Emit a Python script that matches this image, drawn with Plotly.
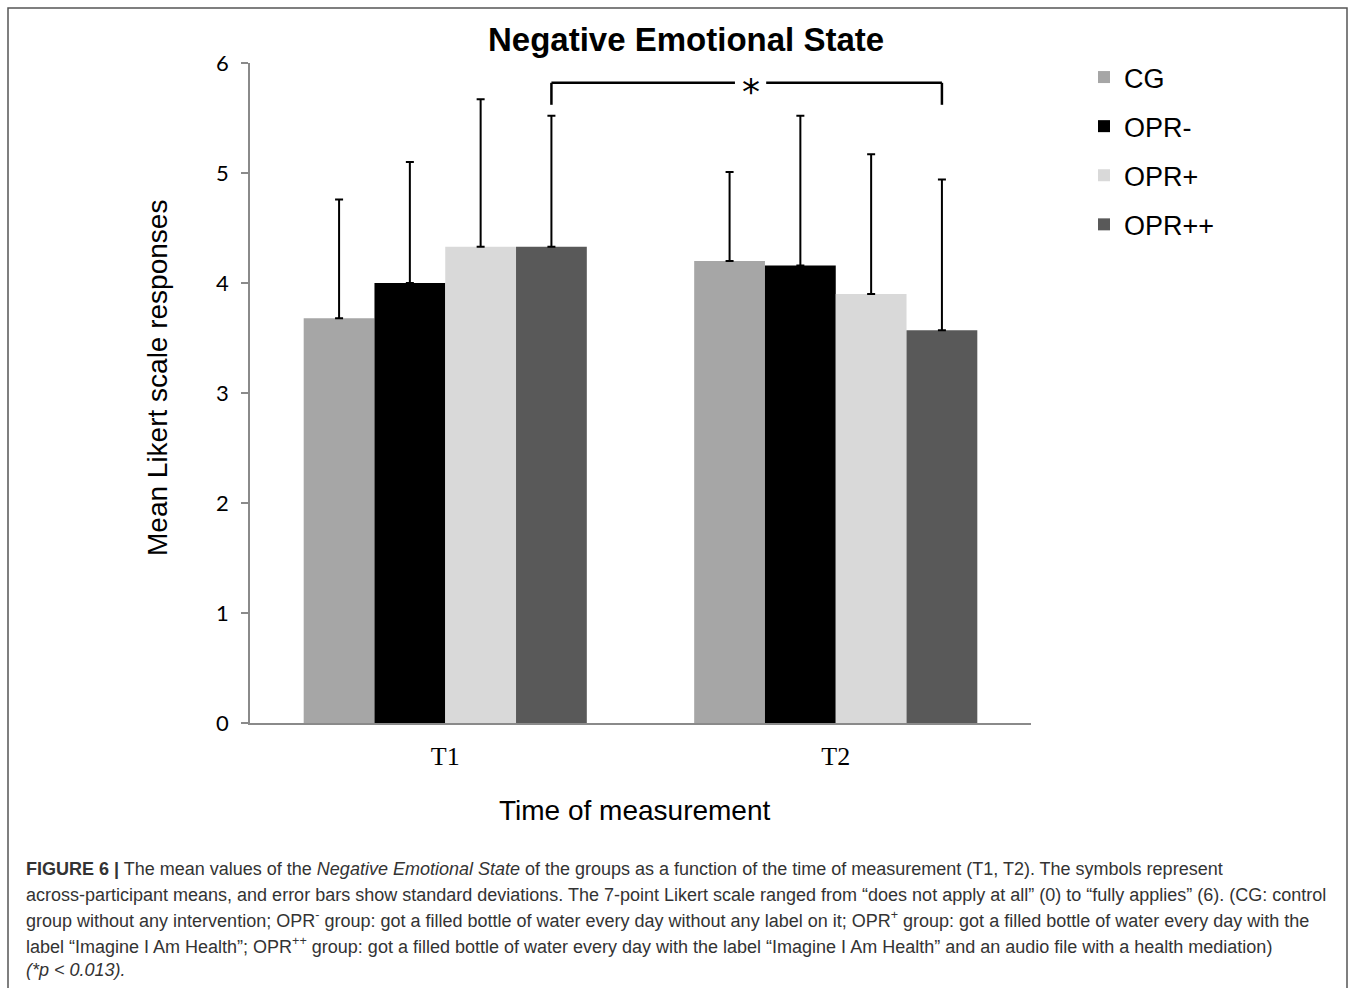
import plotly.graph_objects as go

# ---------------- data ----------------
categories = ["T1", "T2"]
groups = ["CG", "OPR-", "OPR+", "OPR++"]
means_cg = [3.68, 4.20]
means_opr_minus = [4.00, 4.16]
means_opr_plus = [4.33, 3.90]
means_opr_pp = [4.33, 3.57]
sd_cg = [1.08, 0.81]
sd_opr_minus = [1.10, 1.36]
sd_opr_plus = [1.34, 1.27]
sd_opr_pp = [1.19, 1.37]
y_ticks = [0, 1, 2, 3, 4, 5, 6]
sig_label = "*"

means = [means_cg, means_opr_minus, means_opr_plus, means_opr_pp]
sds = [sd_cg, sd_opr_minus, sd_opr_plus, sd_opr_pp]
colors = ["#a6a6a6", "#000000", "#d9d9d9", "#595959"]

# ---------------- layout geometry (pixels) ----------------
W, H = 1357, 988
L, R, T, B = 250, 1031, 63, 723


def px(x):
    return (x - L) / (R - L)


def py(y):
    return (B - y) / (B - T)


fig = go.Figure()
for i, g in enumerate(groups):
    fig.add_trace(go.Bar(
        x=categories, y=means[i], name=g,
        marker=dict(color=colors[i], line=dict(width=0)),
        legendgroup=g,
        error_y=dict(type="data", array=sds[i], arrayminus=[0] * len(sds[i]),
                     symmetric=False, color="#000000", thickness=2, width=4),
    ))

axis_col = "#8a8a8a"
fig.update_layout(
    width=W, height=H,
    margin=dict(l=L, r=W - R, t=T, b=H - B, pad=0),
    paper_bgcolor="white", plot_bgcolor="white",
    barmode="group", bargap=0.275, bargroupgap=0,
    showlegend=True,
    legend=dict(x=px(1084), y=py(53), xanchor="left", yanchor="top",
                font=dict(family="Liberation Sans, Arial, sans-serif", size=27, color="#000"),
                tracegroupgap=11, bgcolor="rgba(0,0,0,0)"),
    xaxis=dict(range=[-0.5, 1.5], showline=True, linecolor=axis_col, linewidth=1.5,
               ticks="", showgrid=False, zeroline=False, ticklabelstandoff=9,
               tickfont=dict(family="Liberation Serif, Times New Roman, serif", size=26, color="#000")),
    yaxis=dict(range=[0, 6], tickvals=y_ticks, showline=True, linecolor=axis_col, linewidth=1.5,
               ticks="outside", ticklen=7, tickcolor=axis_col, tickwidth=1.5,
               showgrid=False, zeroline=False, ticklabelstandoff=8,
               tickfont=dict(family="Lato, Carlito, sans-serif", size=22, color="#000")),
)

# title
fig.add_annotation(text="<b>Negative Emotional State</b>", xref="paper", yref="paper",
                   x=px(686), y=py(40), xanchor="center", yanchor="middle", showarrow=False,
                   font=dict(family="Liberation Sans, Arial, sans-serif", size=33, color="#000"))
# axis titles
fig.add_annotation(text="Mean Likert scale responses", xref="paper", yref="paper",
                   x=px(157), y=py(378), xanchor="center", yanchor="middle", showarrow=False,
                   textangle=-90,
                   font=dict(family="Liberation Sans, Arial, sans-serif", size=28, color="#000"))
fig.add_annotation(text="Time of measurement", xref="paper", yref="paper",
                   x=px(634), y=py(810), xanchor="center", yanchor="middle", showarrow=False,
                   font=dict(family="Liberation Sans, Arial, sans-serif", size=28, color="#000"))

# significance bracket between T1 OPR++ and T2 OPR++
bw = (1 - 0.275) / len(groups)
off = 1.5 * bw
x_left, x_right = 0 + off, 1 + off
y_low, y_high = 5.62, 5.82
bracket = dict(type="line", xref="x", yref="y", line=dict(color="#000", width=2.5))
fig.add_shape(**bracket, x0=x_left, x1=x_left, y0=y_low, y1=y_high)
fig.add_shape(**bracket, x0=x_right, x1=x_right, y0=y_low, y1=y_high)
fig.add_shape(**bracket, x0=x_left, x1=x_right, y0=y_high, y1=y_high)
fig.add_annotation(text=sig_label, xref="x", yref="y", x=(x_left + x_right) / 2 + 0.01, y=y_high,
                   yshift=-9, showarrow=False, bgcolor="rgba(0,0,0,0)", borderpad=0,
                   font=dict(family="DejaVu Sans, sans-serif", size=36, color="#000"))
# white gap around the asterisk
fig.add_shape(type="rect", xref="x", yref="y",
              x0=(x_left + x_right) / 2 - 0.03, x1=(x_left + x_right) / 2 + 0.05,
              y0=y_high - 0.03, y1=y_high + 0.03,
              line=dict(width=0), fillcolor="white", layer="above")

# outer figure box
fig.add_shape(type="rect", xref="paper", yref="paper",
              x0=px(8), x1=px(1347), y0=py(995), y1=py(8),
              line=dict(color="#555555", width=1.5), fillcolor="rgba(0,0,0,0)", layer="below")

# caption
cap_font = dict(family="Liberation Sans, Arial, sans-serif", size=18, color="#333333")
caption_lines = [
    "<b>FIGURE 6 |</b> The mean values of the <i>Negative Emotional State</i> of the groups as a function of the time of measurement (T1, T2). The symbols represent",
    "across-participant means, and error bars show standard deviations. The 7-point Likert scale ranged from “does not apply at all” (0) to “fully applies” (6). (CG: control",
    "group without any intervention; OPR<sup>-</sup> group: got a filled bottle of water every day without any label on it; OPR<sup>+</sup> group: got a filled bottle of water every day with the",
    "label “Imagine I Am Health”; OPR<sup>++</sup> group: got a filled bottle of water every day with the label “Imagine I Am Health” and an audio file with a health mediation)",
    "<i>(*p &lt; 0.013).</i>",
]
caption_y = [869, 895, 920, 945, 970]
for txt, yy in zip(caption_lines, caption_y):
    fig.add_annotation(text=txt, xref="paper", yref="paper", x=px(24), y=py(yy),
                       xanchor="left", yanchor="middle", showarrow=False, align="left",
                       font=cap_font)

fig.write_html("out.html")
